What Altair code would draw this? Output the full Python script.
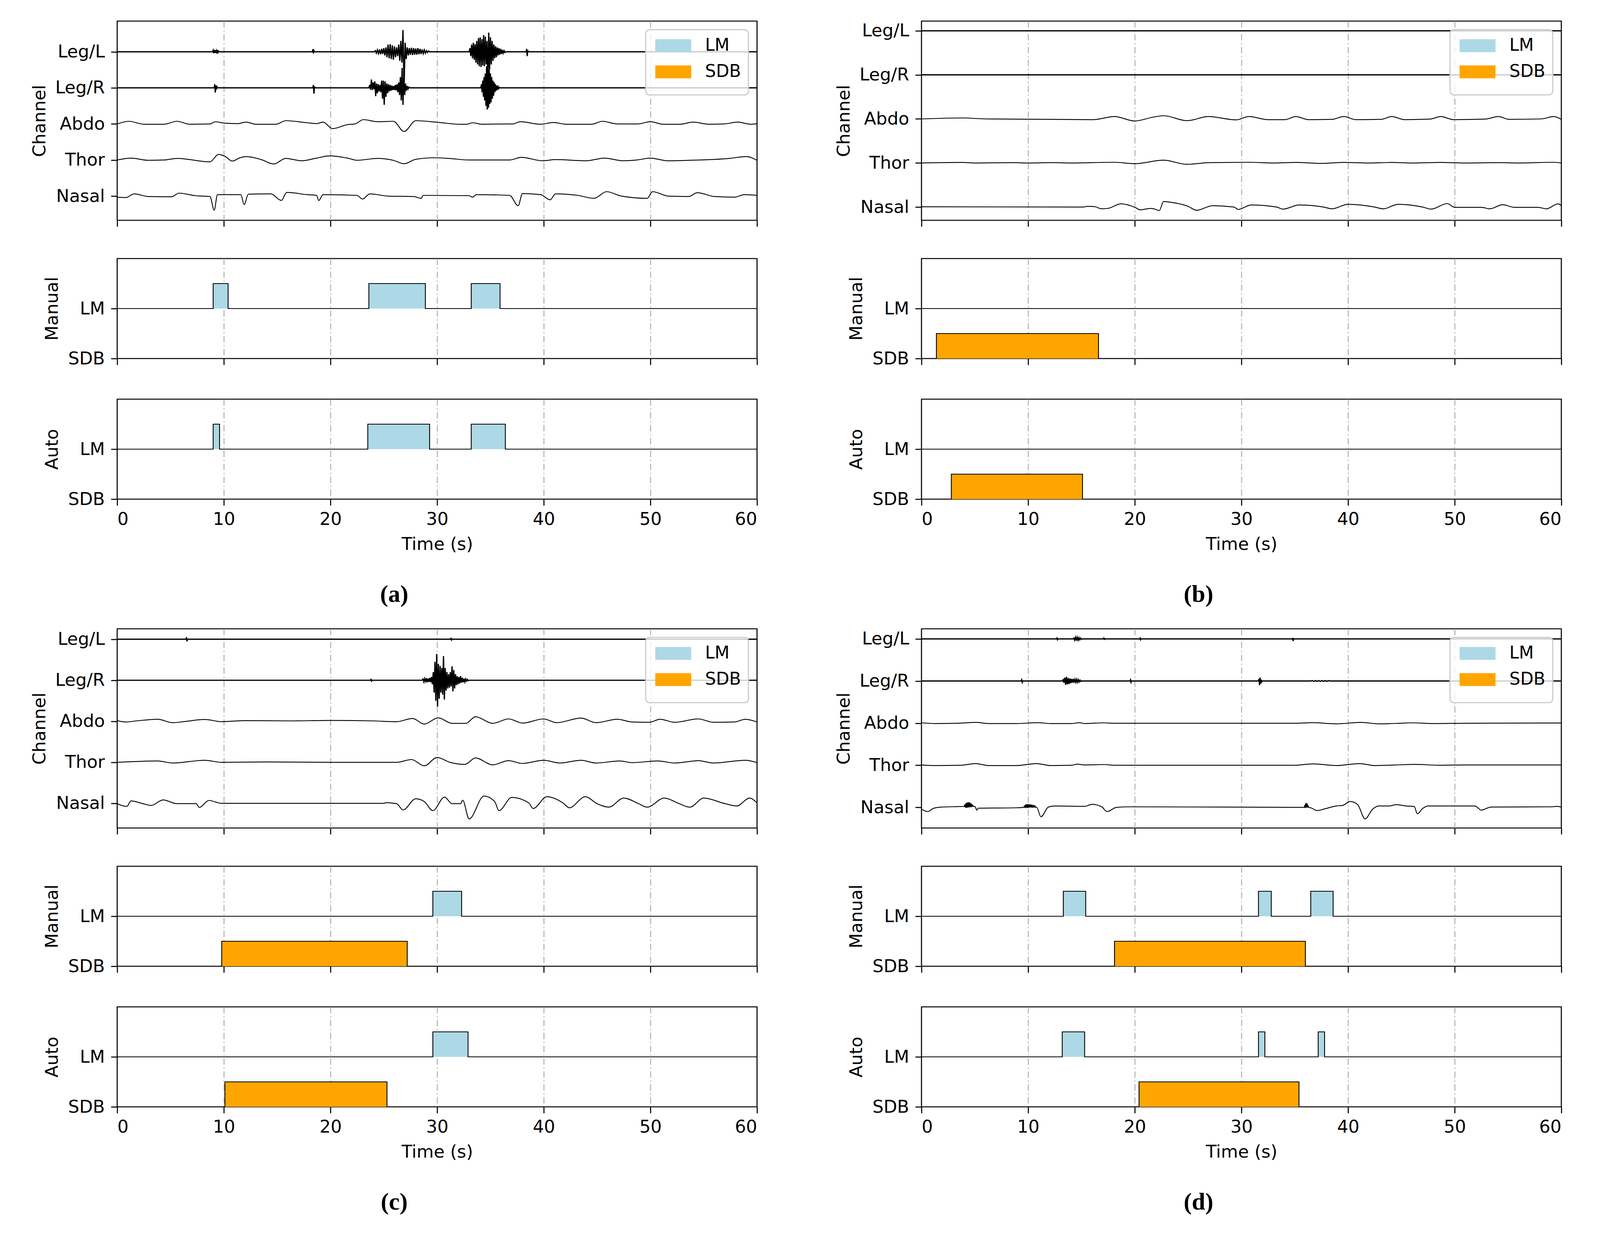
import altair as alt
import pandas as pd

# ---------------------------------------------------------------- shared values
X_TICKS = [0, 10, 20, 30, 40, 50, 60]
CHANNELS = ["Nasal", "Thor", "Abdo", "Leg/R", "Leg/L"]   # drawn at rows 1..5
EVENT_KINDS = ["LM", "SDB"]
EVENT_COLORS = ["#add8e6", "#ffa500"]
FLAT = [(0, 0.0), (60, 0.0)]

# bursts are (start time, step, offsets); traces are (time, offset) pairs

# ---------------------------------------------------------------- panel (a)
a_ydom = [0.33, 5.85]
a_legl = [
    (8.95, 0.05, [0, 0.04, -0.04, 0.05, -0.03, 0.04, -0.03, 0.03, -0.02, 0.02, -0.02, 0.02, 0]),
    (18.3, 0.05, [0, 0.07, -0.05, 0.03, 0]),
    (24.1, 0.1, [0, 0.03, -0.04, 0.05, -0.05, 0.06, -0.07, 0.08, -0.06, 0.1,
                 -0.1, 0.12, -0.15, 0.2, -0.18, 0.21, -0.2, 0.18, -0.22, 0.15,
                 -0.15, 0.12, -0.12, 0.2, -0.25, 0.3, -0.3, 0.6, -1.0,
                 0.25, -0.2, 0.12, -0.1, 0.1, -0.08, 0.11, -0.09, 0.1, -0.08, 0.09,
                 -0.08, 0.1, -0.07, 0.08, -0.06, 0.06, -0.05, 0.05, -0.04, 0.03, -0.02, 0.02, 0]),
    (33.0, 0.08, [0, 0.1, -0.12, 0.2, -0.18, 0.25, -0.22, 0.21, -0.3, 0.3, -0.35, 0.38, -0.4, 0.4,
                  -0.42, 0.35, -0.38, 0.46, -0.4, 0.42, -0.35, 0.3, -0.9, 0.53, -0.5, 0.4, -0.35,
                  0.3, -0.25, 0.2, -0.18, 0.15, -0.15, 0.12, -0.1, 0.1, -0.08, 0.08, -0.06, 0.05,
                  -0.04, 0.03, -0.02, 0]),
    (38.35, 0.05, [0, 0.08, -0.12, 0.04, 0]),
]
a_legr = [
    (9.1, 0.05, [0, 0.1, -0.13, 0.06, -0.05, 0.03, 0]),
    (18.35, 0.05, [0, 0.08, -0.16, 0.04, 0]),
    (23.6, 0.08, [0, 0.08, -0.05, 0.23, -0.06, 0.15, -0.04,
                  0.18, -0.23, 0.12, -0.15, 0.1, -0.1, 0.08,
                  -0.12, 0.2, -0.3, 0.2, -0.47, 0.18, -0.25,
                  0.12, -0.15, 0.1, -0.1, 0.08, -0.08, 0.06,
                  -0.06, 0.05, -0.06, 0.08, -0.07, 0.1, -0.12,
                  0.15, -0.2, 0.3, -0.35, 0.55, -0.47, 0.3,
                  -0.2, 0.12, -0.08, 0.05, -0.03, 0.02, 0]),
    (34.1, 0.06, [0, 0.1, -0.12, 0.2, -0.25, 0.3, -0.35, 0.4, -0.5, 0.6, -0.6, 0.55, -0.55, 0.5,
                  -0.45, 0.4, -0.4, 0.3, -0.3, 0.2, -0.22, 0.15, -0.12, 0.1, -0.08, 0.06, -0.05,
                  0.03, -0.02, 0.01, 0]),
]
a_abdo = [(0, 0.0), (1.1, 0.074), (2.5, -0.008), (4.4, -0.008), (5.6, 0.074), (6.8, -0.008),
          (8.7, 0.0), (9.2, 0.06), (10.1, 0.02), (11.3, 0.008), (12.1, 0.05), (13.0, -0.008),
          (14.9, -0.008), (15.8, 0.09), (17.8, 0.033), (18.7, 0.008), (19.3, 0.05), (20.2, -0.13),
          (21.6, -0.02), (22.3, 0.0), (23.1, 0.12), (24.4, 0.062), (25.9, 0.074), (26.9, -0.21),
          (28.0, 0.09), (30.2, 0.04), (32.1, -0.008), (32.8, -0.008), (33.3, 0.033), (34.2, -0.008),
          (37.1, 0.0), (37.8, 0.062), (39.7, -0.008), (40.9, 0.041), (42.1, -0.008), (44.5, -0.008),
          (45.5, 0.074), (46.9, 0.0), (48.8, 0.0), (50.0, 0.062), (51.2, -0.008), (52.8, -0.008),
          (54.0, 0.05), (55.5, -0.008), (56.9, 0.0), (58.2, 0.05), (59.4, -0.008), (60, 0.008)]
a_thor = [(0, 0.0), (1.3, 0.053), (2.9, -0.008), (4.4, 0.0), (5.6, 0.045), (8.7, -0.05),
          (9.5, 0.156), (10.1, 0.103), (10.8, -0.03), (11.5, 0.06), (12.1, 0.095), (13.5, 0.012),
          (14.7, -0.11), (15.8, 0.045), (17.3, -0.02), (18.7, 0.053), (19.9, 0.115), (21.6, 0.053),
          (22.5, -0.008), (24.4, 0.045), (25.9, -0.008), (26.9, -0.103), (28.0, 0.02), (29.7, 0.062),
          (31.1, 0.045), (33.0, 0.0), (36.8, 0.0), (37.9, 0.074), (39.9, -0.02), (41.1, 0.012),
          (44.0, -0.02), (45.7, 0.053), (47.4, -0.02), (48.8, 0.004), (50.0, 0.053), (51.6, -0.02),
          (53.6, -0.008), (57.4, 0.045), (59.0, 0.095), (60, -0.008)]
a_nasal = [(0, -0.03), (0.8, -0.04), (1.6, 0.062), (2.9, -0.012), (5.1, -0.02), (5.8, 0.082),
           (7.3, 0.012), (8.7, -0.012), (9.1, -0.39), (9.4, 0.041), (11.6, 0.041), (11.9, -0.235),
           (12.3, 0.053), (14.4, 0.062), (15.4, -0.12), (15.9, 0.103), (17.8, 0.041), (18.7, 0.02),
           (18.9, -0.123), (19.3, 0.041), (22.5, 0.02), (23.0, -0.082), (23.7, 0.062), (25.4, 0.0),
           (27.8, -0.012), (28.5, -0.062), (28.7, 0.02), (33.0, 0.012), (33.3, -0.03), (33.7, 0.041),
           (36.8, 0.02), (37.6, -0.267), (38.0, 0.07), (39.7, 0.041), (40.6, -0.103), (41.1, 0.062),
           (43.2, 0.02), (44.7, -0.062), (45.9, 0.123), (47.3, 0.0), (49.7, -0.062), (50.2, 0.123),
           (51.7, 0.0), (53.6, -0.012), (54.4, 0.095), (56.0, -0.012), (57.9, -0.03), (58.8, 0.041),
           (60, 0.02)]
a_man_lm = [(9.0, 10.4), (23.6, 28.9), (33.2, 35.9)]
a_man_sdb = []
a_auto_lm = [(9.0, 9.6), (23.5, 29.3), (33.2, 36.4)]
a_auto_sdb = []

# ---------------------------------------------------------------- panel (b)
b_ydom = [0.70, 5.22]
b_legl = []
b_legr = []
b_abdo = [(0, 0.0), (3.9, 0.022), (6.0, 0.0), (16.1, -0.016), (18.1, 0.054), (20.0, -0.047),
          (21.7, 0.04), (22.7, 0.073), (24.9, -0.04), (26.9, 0.054), (29.5, -0.022), (30.7, 0.054),
          (32.5, -0.016), (34.1, -0.016), (35.1, 0.054), (36.3, -0.016), (38.5, -0.01), (39.6, 0.054),
          (40.7, -0.016), (43.1, -0.01), (44.1, 0.054), (45.3, -0.016), (47.7, -0.003), (48.7, 0.054),
          (49.9, -0.016), (52.9, -0.003), (54.1, 0.054), (55.1, -0.01), (58.1, 0.0), (59.3, 0.054),
          (60, -0.01)]
b_thor = [(0, 0.0), (3.9, 0.012), (5.0, 0.0), (8.5, 0.008), (10.0, 0.0), (12.3, 0.008), (14.0, 0.0),
          (18.1, 0.016), (20.0, -0.016), (22.7, 0.063), (24.9, -0.03), (27.0, 0.008), (30.7, 0.016),
          (33.0, 0.0), (35.1, 0.012), (37.5, -0.01), (39.6, 0.012), (42.0, 0.0), (44.1, 0.012),
          (46.0, 0.0), (48.7, 0.012), (51.0, 0.0), (54.1, 0.008), (56.0, 0.0), (59.3, 0.016), (60, 0.0)]
b_nasal = [(0, 0.006), (15.2, 0.0), (15.5, 0.016), (16.2, 0.01), (16.9, -0.04), (17.5, -0.03),
           (18.7, 0.073), (20.1, -0.016), (20.5, -0.063), (21.5, -0.03), (21.9, -0.047), (22.3, -0.08),
           (22.7, 0.127), (23.0, 0.12), (25.0, 0.016), (25.8, -0.073), (27.3, 0.032), (29.3, 0.0),
           (29.7, -0.054), (30.9, 0.047), (33.3, 0.0), (33.9, -0.047), (35.4, 0.047), (37.7, 0.0),
           (38.5, -0.04), (40.0, 0.063), (42.5, 0.0), (43.3, -0.04), (44.7, 0.063), (47.0, 0.0),
           (47.8, -0.047), (49.3, 0.079), (50.0, -0.006), (52.5, -0.006), (53.3, -0.04), (54.5, 0.054),
           (55.6, -0.006), (57.8, -0.006), (58.6, -0.04), (59.7, 0.073), (60, 0.03)]
b_man_lm = []
b_man_sdb = [(1.4, 16.6)]
b_auto_lm = []
b_auto_sdb = [(2.8, 15.1)]

# ---------------------------------------------------------------- panel (c)
c_ydom = [0.40, 5.254]
c_legl = [
    (6.45, 0.05, [0, 0.05, -0.05, 0]),
    (31.25, 0.05, [0, 0.02, -0.02, 0]),
]
c_legr = [
    (23.75, 0.05, [0, 0.02, -0.02, 0]),
    (28.6, 0.08, [0, 0.03, -0.04, 0.04, -0.03, 0.05, -0.05, 0.04, -0.04, 0.06, -0.05, 0.08,
                  -0.1, 0.2, -0.3, 0.45, -0.5, 0.64, -0.64, 0.4, -0.45, 0.35, -0.3,
                  0.3, -0.35, 0.59, -0.47, 0.3, -0.25, 0.2, -0.2, 0.15, -0.18, 0.2,
                  -0.15, 0.34, -0.27, 0.25, -0.2, 0.15, -0.12, 0.1, -0.1, 0.08, -0.08,
                  0.1, -0.06, 0.06, -0.05, 0.04, -0.04, 0.03, -0.02, 0.02, -0.01, 0]),
]
c_abdo = [(0, 0.017), (0.8, -0.017), (1.8, 0.01), (3.8, 0.05), (5.2, -0.034), (6.5, 0.0),
          (8.2, 0.044), (9.8, -0.01), (12.0, 0.017), (16.0, 0.01), (20.0, 0.02), (24.0, 0.01),
          (26.2, -0.01), (27.7, 0.068), (28.8, -0.068), (30.1, 0.085), (31.4, -0.05), (32.7, -0.05),
          (33.6, 0.112), (35.2, -0.05), (36.7, 0.058), (38.0, -0.044), (40.0, 0.058), (41.2, -0.034),
          (43.5, 0.078), (44.9, -0.034), (46.9, 0.05), (48.3, -0.017), (49.9, -0.024), (50.9, 0.05),
          (52.3, -0.024), (54.5, 0.058), (55.9, -0.024), (57.9, -0.017), (58.9, 0.05), (60, -0.017)]
c_thor = [(0, 0.0), (3.8, 0.034), (5.2, -0.017), (8.2, 0.05), (9.8, 0.0), (14.0, 0.01), (20.0, 0.0),
          (26.2, 0.0), (27.6, 0.068), (28.8, -0.085), (30.0, 0.119), (31.2, 0.0), (32.6, -0.05),
          (33.6, 0.108), (35.2, -0.061), (36.7, 0.04), (38.0, -0.027), (40.0, 0.05), (41.5, -0.017),
          (43.5, 0.05), (44.9, -0.017), (47.1, 0.034), (48.3, -0.007), (50.7, 0.034), (52.3, -0.017),
          (54.5, 0.04), (55.9, -0.017), (58.9, 0.05), (60, -0.007)]
c_nasal = [(0, -0.007), (0.9, -0.075), (1.3, 0.061), (2.4, -0.007), (3.2, -0.05), (4.3, 0.085),
           (5.6, -0.007), (7.4, -0.007), (7.7, -0.1), (8.6, 0.071), (9.8, 0.0), (25.0, 0.0),
           (25.2, 0.017), (26.2, -0.007), (26.8, -0.16), (28.0, 0.112), (28.8, 0.044), (29.6, -0.176),
           (30.7, 0.153), (31.4, -0.007), (32.2, -0.007), (32.4, 0.078), (33.0, -0.38), (34.4, 0.18),
           (35.4, 0.044), (35.8, -0.176), (37.0, 0.146), (38.6, 0.01), (39.0, -0.125), (40.3, 0.163),
           (41.8, 0.01), (42.4, -0.108), (43.9, 0.163), (45.0, -0.007), (46.1, -0.092), (47.5, 0.129),
           (48.9, -0.007), (49.7, -0.092), (51.3, 0.129), (52.7, -0.007), (53.7, -0.092), (55.0, 0.129),
           (57.0, -0.007), (58.1, -0.064), (59.3, 0.129), (60, 0.01)]
c_man_lm = [(29.6, 32.3)]
c_man_sdb = [(9.8, 27.2)]
c_auto_lm = [(29.6, 32.9)]
c_auto_sdb = [(10.1, 25.3)]

# ---------------------------------------------------------------- panel (d)
d_ydom = [0.51, 5.24]
d_legl = [
    (12.65, 0.05, [0, 0.02, -0.02, 0]),
    (14.2, 0.08, [0, 0.02, -0.03, 0.04, -0.04, 0.04, -0.03, 0.03, -0.02, 0.02, -0.01, 0]),
    (17.05, 0.05, [0, 0.02, -0.01, 0]),
    (20.45, 0.05, [0, 0.02, -0.02, 0]),
    (34.75, 0.05, [0, 0.01, -0.05, 0]),
]
d_legr = [
    (9.35, 0.05, [0, 0.03, -0.03, 0]),
    (13.2, 0.08, [0, 0.03, -0.04, 0.08, -0.09, 0.1, -0.08, 0.07, -0.07, 0.06, -0.05, 0.05, -0.04,
                  0.05, -0.04, 0.04, -0.03, 0.04, -0.03, 0.03, -0.02, 0.02, -0.01, 0, 0]),
    (19.55, 0.05, [0, 0.03, -0.03, 0]),
    (31.6, 0.05, [0, 0.05, -0.1, 0.08, -0.06, 0.03, -0.02, 0]),
    (36.5, 0.15, [0, 0.01, -0.01, 0.01, -0.01, 0.01, -0.01, 0.01, -0.01, 0.01, -0.01, 0.01, 0]),
]
d_abdo = [(0, 0.007), (1.3, -0.01), (3.3, -0.003), (5.1, 0.017), (6.3, -0.01), (8.9, -0.01),
          (10.9, 0.01), (12.1, -0.01), (14.1, -0.01), (14.8, 0.01), (15.3, -0.01), (17.1, 0.007),
          (18.1, -0.003), (35.0, -0.003), (36.7, 0.01), (38.9, -0.017), (41.2, 0.017), (42.9, -0.017),
          (44.9, -0.003), (45.9, 0.007), (48.1, -0.01), (51.0, -0.003), (60, 0.003)]
d_thor = [(0, 0.007), (1.3, -0.007), (3.7, 0.0), (5.1, 0.04), (6.3, -0.007), (8.9, -0.007),
          (10.8, 0.04), (12.1, -0.007), (14.1, 0.0), (14.6, 0.026), (15.3, 0.007), (17.1, 0.017),
          (18.1, 0.0), (35.0, 0.0), (36.7, 0.033), (38.9, -0.007), (41.1, 0.04), (42.5, -0.007),
          (44.5, 0.007), (46.3, 0.02), (48.5, 0.0), (51.0, 0.007), (60, 0.007)]
d_nasal = [(0, -0.043), (0.6, -0.1), (1.1, -0.026), (1.9, 0.007), (3.3, 0.017), (3.9, 0.02),
           (5.0, 0.023), (5.2, -0.066), (5.3, -0.02), (8.9, -0.01), (10.8, 0.0), (11.2, -0.225),
           (11.9, 0.007), (12.5, 0.033), (15.3, 0.023), (16.0, 0.073), (16.9, 0.013), (17.4, -0.1),
           (18.3, 0.0), (19.7, 0.013), (35.8, 0.0), (36.5, -0.01), (37.1, -0.076), (37.7, -0.043),
           (38.9, 0.033), (39.5, 0.046), (40.2, 0.139), (40.9, 0.066), (41.6, -0.275), (42.3, -0.043),
           (42.9, 0.033), (43.9, 0.033), (44.5, 0.066), (45.4, 0.033), (46.2, 0.023), (46.5, -0.152),
           (47.0, -0.026), (47.5, 0.033), (51.9, 0.033), (52.5, -0.066), (53.4, 0.007), (59.0, 0.013),
           (59.6, 0.023), (60, 0.007)]
d_nasal_bursts = [
    (4.0, 0.05, [0.02, 0.06, 0.0, 0.09, -0.01, 0.11, -0.01, 0.12, 0.0, 0.12, 0.0, 0.11, 0.01,
                 0.09, 0.01, 0.07, 0.02, 0.04, 0.02]),
    (9.6, 0.05, [0.0, 0.04, -0.01, 0.06, -0.01, 0.07, -0.01, 0.07, -0.01, 0.07, 0.0, 0.07, 0.0,
                 0.06, 0.0, 0.06, 0.0, 0.05, 0.0, 0.05, 0.0, 0.04, 0.0]),
    (35.9, 0.04, [0.0, 0.05, -0.01, 0.09, 0.0, 0.1, 0.0, 0.08, 0.0, 0.04, 0.0]),
]
d_man_lm = [(13.3, 15.4), (31.6, 32.8), (36.5, 38.6)]
d_man_sdb = [(18.1, 36.0)]
d_auto_lm = [(13.2, 15.3), (31.6, 32.2), (37.2, 37.8)]
d_auto_sdb = [(20.4, 35.4)]

# ---------------------------------------------------------------- layout
W = 1638
SIG_H = 510
EV_H = 256
FONT = "DejaVu Sans"
FS = 45
TICK = 16

color_scale = alt.Scale(domain=EVENT_KINDS, range=EVENT_COLORS)


def x_axis(labels):
    # no grid line on the frame edges (t = 0 and t = 60)
    edge = alt.condition("datum.value == 0 || datum.value == 60", alt.value(0), alt.value(1))
    kw = dict(values=X_TICKS, grid=True, gridColor="#b0b0b0", gridWidth=2.5,
              gridDash=[16, 7, 3, 7], gridOpacity=edge, domain=False, ticks=True,
              tickSize=TICK, tickWidth=2.7, tickColor="black", labels=labels)
    if labels:
        kw.update(title="Time (s)", labelPadding=13, titlePadding=19, format="d")
    else:
        kw.update(title=None)
    return alt.Axis(**kw)


def y_axis(values, label_expr, title):
    return alt.Axis(values=values, labelExpr=label_expr, title=title, grid=False, domain=False,
                    tickSize=TICK, tickWidth=2.7, tickColor="black", labelPadding=16,
                    titlePadding=17)


def trace_rows(ch, level, keys, bursts):
    pts = list(keys)
    for t0, dt, vals in bursts:
        pts += [(t0 + i * dt, v) for i, v in enumerate(vals)]
    pts.sort(key=lambda p: p[0])
    return [{"ch": ch, "i": i, "t": t, "y": level + v} for i, (t, v) in enumerate(pts)]


def signal_chart(ydom, legl, legr, abdo, thor, nasal, nasal_bursts=()):
    rows = []
    rows += trace_rows("Leg/L", 5, FLAT, legl)
    rows += trace_rows("Leg/R", 4, FLAT, legr)
    rows += trace_rows("Abdo", 3, abdo, [])
    rows += trace_rows("Thor", 2, thor, [])
    rows += trace_rows("Nasal", 1, nasal, nasal_bursts)
    df = pd.DataFrame(rows)

    label_expr = " : ".join(
        f"datum.value == {i + 1} ? '{c}'" for i, c in enumerate(CHANNELS)) + " : ''"
    x = alt.X("t:Q", scale=alt.Scale(domain=[0, 60], nice=False, zero=False), axis=x_axis(False))
    y = alt.Y("y:Q", scale=alt.Scale(domain=ydom, nice=False, zero=False),
              axis=y_axis([1, 2, 3, 4, 5], label_expr, "Channel"))
    base = alt.Chart(df).encode(x=x, y=y, detail="ch:N", order="i:Q")
    legs = base.transform_filter("indexof(datum.ch, 'Leg') == 0").mark_line(
        color="black", strokeWidth=3.2, clip=True)
    resp = base.transform_filter("indexof(datum.ch, 'Leg') != 0").mark_line(
        color="black", strokeWidth=2.2, clip=True, interpolate="monotone")

    # keys for the legend only: they sit outside the y domain and are clipped away
    key_df = pd.DataFrame({"kind": EVENT_KINDS, "t": [30, 30], "y": [-50, -50]})
    keys = alt.Chart(key_df).mark_square(clip=True, filled=True).encode(
        x="t:Q", y="y:Q",
        color=alt.Color("kind:N", scale=color_scale, legend=alt.Legend(
            title=" ", titleOrient="bottom", titleFontSize=10, titlePadding=8,
            orient="top-right", offset=22, padding=19,
            symbolType="M-1,-1H4.576V1H-1Z", symbolSize=1089, symbolStrokeWidth=0,
            symbolOpacity=1, labelFontSize=44, labelOffset=89, rowPadding=23,
            fillColor="rgba(255,255,255,0.8)", strokeColor="#cccccc", cornerRadius=10)))
    return alt.layer(legs, resp, keys).properties(width=W, height=SIG_H)


def event_chart(lm, sdb, title, last):
    rects = [{"kind": "LM", "s": s, "e": e, "y0": 1.0, "y1": 1.5} for s, e in lm]
    rects += [{"kind": "SDB", "s": s, "e": e, "y0": 0.0, "y1": 0.5} for s, e in sdb]

    steps = []
    for kind, base, evs in (("LM", 1.0, lm), ("SDB", 0.0, sdb)):
        pts = [(0, base)]
        for s, e in evs:
            pts += [(s, base), (s, base + 0.5), (e, base + 0.5), (e, base)]
        pts.append((60, base))
        steps += [{"kind": kind, "i": i, "t": t, "y": v} for i, (t, v) in enumerate(pts)]

    x_scale = alt.Scale(domain=[0, 60], nice=False, zero=False)
    y_scale = alt.Scale(domain=[0, 2], nice=False, zero=False)
    x = alt.X("t:Q", scale=x_scale, axis=x_axis(last))
    y = alt.Y("y:Q", scale=y_scale,
              axis=y_axis([0, 1], "datum.value == 1 ? 'LM' : 'SDB'", title))

    fill = alt.Chart(pd.DataFrame(rects)).mark_rect().encode(
        x=alt.X("s:Q", scale=x_scale, axis=x_axis(last)), x2="e:Q",
        y=alt.Y("y0:Q", scale=y_scale), y2="y1:Q",
        color=alt.Color("kind:N", scale=color_scale, legend=None))
    outline = alt.Chart(pd.DataFrame(steps)).mark_line(
        color="black", strokeWidth=2.2, clip=True).encode(
        x=x, y=y, detail="kind:N", order="i:Q")
    return alt.layer(fill, outline).properties(width=W, height=EV_H)


def panel(tag, sig, man, auto):
    return alt.vconcat(
        sig, man, auto, spacing=77,
        title=alt.TitleParams(text=f"({tag})", orient="bottom", anchor="middle",
                              frame="bounds", font="Liberation Serif", fontSize=62,
                              fontWeight="bold", color="black", offset=75),
    ).resolve_scale(color="independent").resolve_legend(color="independent")


pa = panel("a", signal_chart(a_ydom, a_legl, a_legr, a_abdo, a_thor, a_nasal),
           event_chart(a_man_lm, a_man_sdb, "Manual", False),
           event_chart(a_auto_lm, a_auto_sdb, "Auto", True))
pb = panel("b", signal_chart(b_ydom, b_legl, b_legr, b_abdo, b_thor, b_nasal),
           event_chart(b_man_lm, b_man_sdb, "Manual", False),
           event_chart(b_auto_lm, b_auto_sdb, "Auto", True))
pc = panel("c", signal_chart(c_ydom, c_legl, c_legr, c_abdo, c_thor, c_nasal),
           event_chart(c_man_lm, c_man_sdb, "Manual", False),
           event_chart(c_auto_lm, c_auto_sdb, "Auto", True))
pd_ = panel("d", signal_chart(d_ydom, d_legl, d_legr, d_abdo, d_thor, d_nasal, d_nasal_bursts),
            event_chart(d_man_lm, d_man_sdb, "Manual", False),
            event_chart(d_auto_lm, d_auto_sdb, "Auto", True))

top = alt.hconcat(pa, pb, spacing=195).resolve_scale(color="independent").resolve_legend(color="independent")
bottom = alt.hconcat(pc, pd_, spacing=195).resolve_scale(color="independent").resolve_legend(color="independent")

chart = (
    alt.vconcat(top, bottom, spacing=54)
    .resolve_scale(color="independent")
    .resolve_legend(color="independent")
    .properties(padding={"left": 69, "top": 44, "right": 10, "bottom": 10})
    .configure(background="white")
    .configure_view(stroke="black", strokeWidth=2.7)
    .configure_axis(labelFont=FONT, labelFontSize=FS, labelColor="black",
                    titleFont=FONT, titleFontSize=FS, titleFontWeight="normal",
                    titleColor="black")
    .configure_legend(labelFont=FONT, labelColor="black", strokeWidth=3)
)

chart.save("out.html", embed_options={"renderer": "svg", "actions": False})
